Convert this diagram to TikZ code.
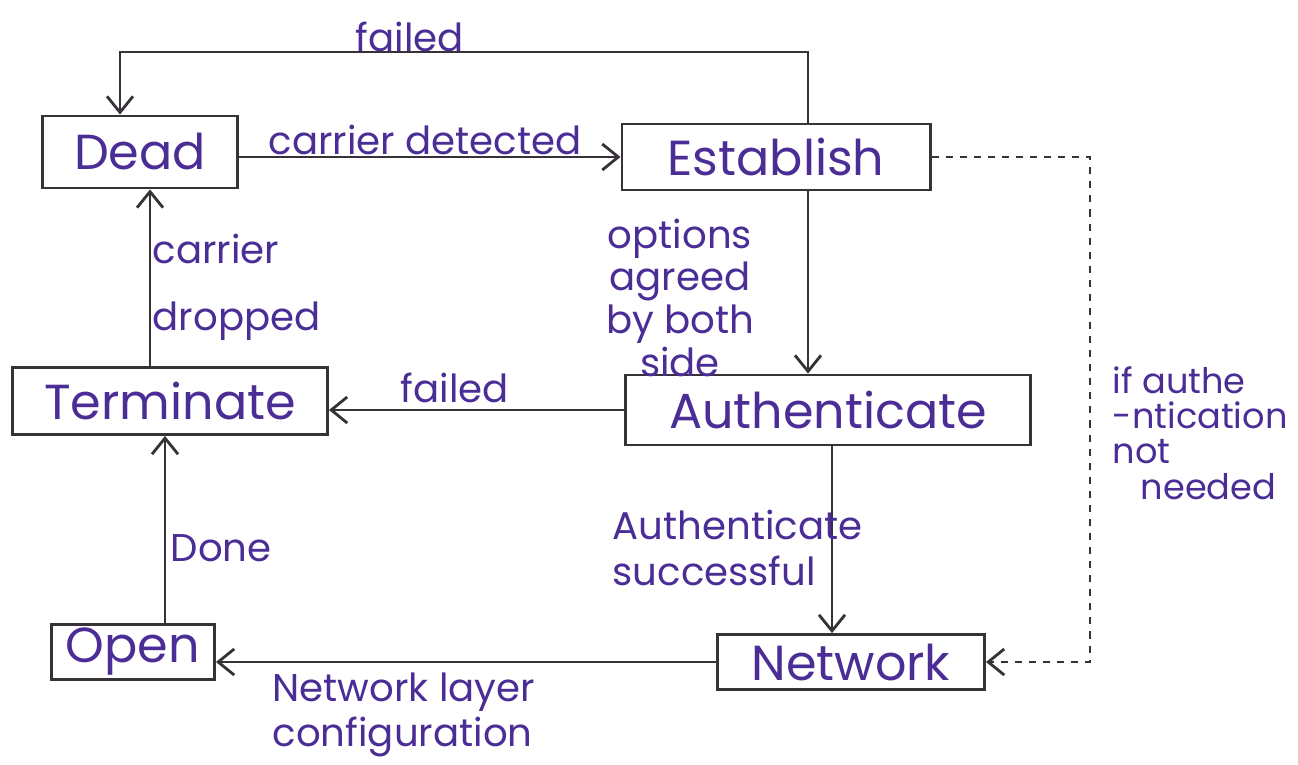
\documentclass[tikz,border=0pt]{standalone}
\usepackage{fontspec}
\setmainfont{Poppins}
\usetikzlibrary{arrows.meta}
\definecolor{ink}{RGB}{75,45,150}
\definecolor{pencil}{RGB}{55,50,55}

\begin{document}
\begin{tikzpicture}[x=0.01cm,y=-0.01cm,
	state/.style={draw=pencil, line width=0.8pt, inner sep=0pt, text=ink, font=\fontsize{14}{16}\selectfont},
	trans/.style={draw=pencil, line width=0.8pt, -{Straight Barb[length=1.6mm,width=2.6mm]}},
	lbl/.style={text=ink, inner sep=0pt, font=\fontsize{11}{13}\selectfont}]
	\useasboundingbox (0,0) rectangle (1298,764);

	% states: name/x/y/width/height/text
	\foreach \n/\x/\y/\w/\h/\t in {dead/140/152/1.95/0.72/Dead, est/776/157/3.08/0.66/Establish,
		term/170/401/3.15/0.67/Terminate, auth/828/410/4.05/0.70/Authenticate,
		open/133/652/1.63/0.55/Open, net/851/662/2.67/0.55/Network} {
		\node[state, minimum width=\w cm, minimum height=\h cm] (\n) at (\x,\y) {\t};
	}

	% x positions of the vertical lines
	\coordinate (xe) at (808,52);
	\coordinate (xd) at (120,52);
	\coordinate (xtd) at (150,0);
	\coordinate (xot) at (165,0);
	\coordinate (xan) at (832,0);
	\coordinate (xr) at (1090,0);

	% transitions
	\draw[trans] (est.north -| xe) -- (xe) -- (xd) -- (dead.north -| xd); % failed
	\draw[trans] (dead.east |- est) -- (est.west);
	\draw[trans] (est.south -| xe) -- (auth.north -| xe);
	\draw[trans] (auth.west) -- (auth.west -| term.east);
	\draw[trans] (term.north -| xtd) -- (dead.south -| xtd);
	\draw[trans] (auth.south -| xan) -- (net.north -| xan);
	\draw[trans] (net.west) -- (net.west -| open.east);
	\draw[trans] (open.north -| xot) -- (term.south -| xot);
	\draw[trans, dash pattern=on 2pt off 2pt] (est.east) -- (est.east -| xr) -- (net.east -| xr) -- (net.east);

	% labels
	\node[lbl] (lfail1) at (410,37) {failed};
	\node[lbl] (ldet) at (425,140) {carrier detected};
	\node[lbl, align=center, font=\fontsize{11}{10.5}\selectfont] (lopt) at (680,298) {options\\agreed\\by both\\side};
	\node[lbl, align=left, anchor=west] (ldrop) at (152,287) {carrier\\[6pt]dropped};
	\node[lbl] (lfail2) at (455,388) {failed};
	\node[lbl, anchor=west] (ldone) at (170,548) {Done};
	\node[lbl, align=left, anchor=west] (lsucc) at (612,548) {Authenticate\\successful};
	\node[lbl, align=left, anchor=west] (lnlc) at (272,715) {Network layer\\configuration};
	\node[lbl, align=left, anchor=west, font=\fontsize{10}{10}\selectfont] (lskip) at (1112,433) {if authe\\-ntication\\not\\\hspace*{8pt}needed};
\end{tikzpicture}
\end{document}
